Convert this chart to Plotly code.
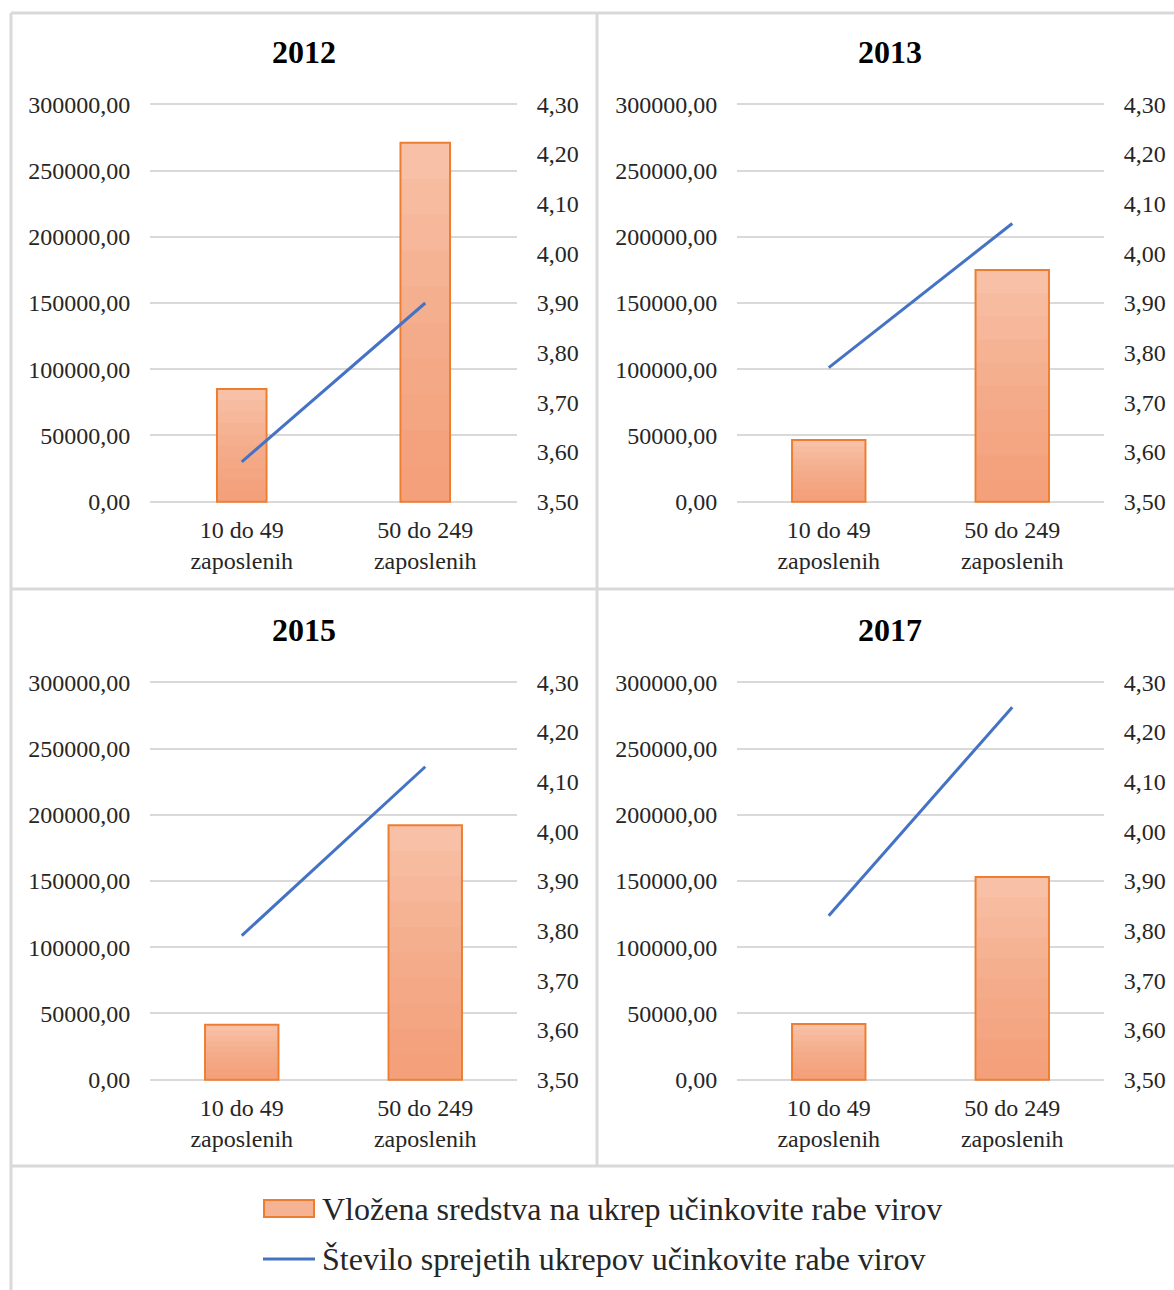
import plotly.graph_objects as go

# --- data -------------------------------------------------------------
years = ["2012", "2013", "2015", "2017"]
categories = ["10 do 49<br>zaposlenih", "50 do 249<br>zaposlenih"]

# invested funds per measure (left axis)
vlozena_2012 = [85000, 271000]
vlozena_2013 = [46500, 175000]
vlozena_2015 = [41500, 192000]
vlozena_2017 = [42000, 153000]

# number of adopted measures (right axis)
stevilo_2012 = [3.58, 3.90]
stevilo_2013 = [3.77, 4.06]
stevilo_2015 = [3.79, 4.13]
stevilo_2017 = [3.83, 4.25]

left_ticks = [0, 50000, 100000, 150000, 200000, 250000, 300000]
right_ticks = [3.5, 3.6, 3.7, 3.8, 3.9, 4.0, 4.1, 4.2, 4.3]

legend_bar = "Vložena sredstva na ukrep učinkovite rabe virov"
legend_line = "Število sprejetih ukrepov učinkovite rabe virov"

vlozena = [vlozena_2012, vlozena_2013, vlozena_2015, vlozena_2017]
stevilo = [stevilo_2012, stevilo_2013, stevilo_2015, stevilo_2017]
bar_widths = [0.27, 0.40, 0.40, 0.40]

# --- page geometry (pixels) -------------------------------------------
W, H = 1174, 1290
FONT = "Liberation Serif, Times New Roman, serif"
GRID = "#D9D9D9"
TEXT = "#262626"
BAR_TOP = "#F8C1A7"
BAR_EDGE = "#ED7D31"
LINE_COL = "#4472C4"

# tiny padding so the outermost gridlines are not clipped at the range ends
L_MIN, L_MAX = 0, 300000
R_MIN, R_MAX = 3.5, 4.3
PAD = 1000
R_PAD = PAD * (R_MAX - R_MIN) / (L_MAX - L_MIN)

def px_x(p):
    return p / W

def px_y(p):
    return 1 - p / H

# plot areas: (left, right, top, bottom)
areas = [(150, 517, 103, 503), (737, 1104, 103, 503),
         (150, 517, 681, 1081), (737, 1104, 681, 1081)]
title_pos = [(304, 52), (890, 52), (304, 630), (890, 630)]

fig = go.Figure()
layout = dict()
annotations = []

N_SHADE = 10
for i, year in enumerate(years):
    xa = f"x{i + 1}"
    yl = f"y{2 * i + 1}"
    yr = f"y{2 * i + 2}"
    w = bar_widths[i]

    # bar body with outline
    fig.add_trace(go.Bar(
        x=categories, y=vlozena[i], width=w, name=legend_bar,
        marker=dict(color=BAR_TOP, line=dict(color=BAR_EDGE, width=2)),
        xaxis=xa, yaxis=yl, showlegend=False,
    ))
    # vertical shading layers: darker towards the base
    for k in range(1, N_SHADE):
        fig.add_trace(go.Bar(
            x=categories, y=[v * k / N_SHADE for v in vlozena[i]],
            width=w - 0.012,
            marker=dict(color="rgba(240,140,92,0.085)", line=dict(width=0)),
            xaxis=xa, yaxis=yl, showlegend=False, hoverinfo="skip",
        ))
    # line on secondary axis
    fig.add_trace(go.Scatter(
        x=categories, y=stevilo[i], mode="lines", name=legend_line,
        line=dict(color=LINE_COL, width=3),
        xaxis=xa, yaxis=yr, showlegend=False,
    ))

    l, r, t, b = areas[i]
    xkey = "xaxis" if i == 0 else f"xaxis{i + 1}"
    ylkey = f"yaxis{2 * i + 1}" if i > 0 else "yaxis"
    yrkey = f"yaxis{2 * i + 2}"
    layout[xkey] = dict(
        domain=[px_x(l), px_x(r)], anchor=yl, type="category",
        showgrid=False, showline=False, zeroline=False, automargin=False,
        ticks="outside", ticklen=5, tickcolor="rgba(0,0,0,0)",
        tickfont=dict(family=FONT, size=24, color=TEXT),
        fixedrange=True,
    )
    layout[ylkey] = dict(
        domain=[px_y(b), px_y(t)], anchor=xa, range=[L_MIN - PAD, L_MAX + PAD],
        tickvals=left_ticks, tickformat=".2f", automargin=False,
        showgrid=True, gridcolor=GRID, gridwidth=2,
        zeroline=False, showline=False,
        ticks="outside", ticklen=14, tickcolor="rgba(0,0,0,0)",
        tickfont=dict(family=FONT, size=24, color=TEXT),
        fixedrange=True,
    )
    layout[yrkey] = dict(
        domain=[px_y(b), px_y(t)], anchor=xa, overlaying=yl, side="right",
        range=[R_MIN - R_PAD, R_MAX + R_PAD], tickvals=right_ticks,
        tickformat=".2f", automargin=False,
        showgrid=False, zeroline=False, showline=False,
        ticks="outside", ticklen=14, tickcolor="rgba(0,0,0,0)",
        tickfont=dict(family=FONT, size=24, color=TEXT),
        fixedrange=True,
    )

    tx, ty = title_pos[i]
    annotations.append(dict(
        text=f"<b>{year}</b>", x=px_x(tx), y=px_y(ty), xref="paper", yref="paper",
        showarrow=False, xanchor="center", yanchor="middle",
        font=dict(family=FONT, size=32, color="#000000"),
    ))

# legend text
annotations.append(dict(
    text=legend_bar, x=px_x(320), y=px_y(1209), xref="paper", yref="paper",
    showarrow=False, xanchor="left", yanchor="middle",
    font=dict(family=FONT, size=32, color=TEXT),
))
annotations.append(dict(
    text=legend_line, x=px_x(320), y=px_y(1259), xref="paper", yref="paper",
    showarrow=False, xanchor="left", yanchor="middle",
    font=dict(family=FONT, size=32, color=TEXT),
))

shapes = []
def frame_line(x0, y0, x1, y1):
    shapes.append(dict(type="line", xref="paper", yref="paper",
                       x0=px_x(x0), y0=px_y(y0), x1=px_x(x1), y1=px_y(y1),
                       line=dict(color=GRID, width=3)))

frame_line(11, 13, W, 13)
frame_line(11, 13, 11, H)
frame_line(597, 13, 597, 1166)
frame_line(11, 589, W, 589)
frame_line(11, 1166, W, 1166)

# legend symbols
shapes.append(dict(type="rect", xref="paper", yref="paper",
                   x0=px_x(264), x1=px_x(314), y0=px_y(1217), y1=px_y(1200),
                   fillcolor="#F6B394", line=dict(color=BAR_EDGE, width=2)))
shapes.append(dict(type="line", xref="paper", yref="paper",
                   x0=px_x(263), x1=px_x(315), y0=px_y(1259), y1=px_y(1259),
                   line=dict(color=LINE_COL, width=3)))

fig.update_layout(
    width=W, height=H,
    margin=dict(l=0, r=0, t=0, b=0, pad=0, autoexpand=False),
    paper_bgcolor="white", plot_bgcolor="rgba(0,0,0,0)",
    barmode="overlay", separators=",.", showlegend=False,
    annotations=annotations, shapes=shapes,
    font=dict(family=FONT),
    **layout,
)

fig.write_html("out.html")
